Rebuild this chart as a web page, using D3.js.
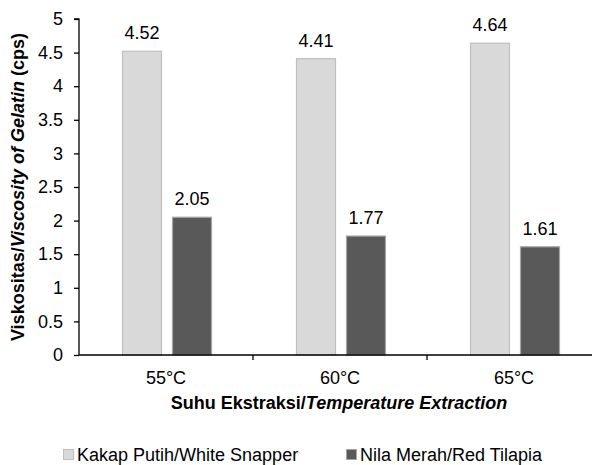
<!DOCTYPE html>
<html>
<head>
<meta charset="utf-8">
<script src="https://cdn.jsdelivr.net/npm/d3@7"></script>
<style>
  body { margin: 0; background: #fff; }
  text { font-family: "Liberation Sans", Arial, sans-serif; fill: #000; }
</style>
</head>
<body>
<div class="canvas"></div>
<script>
// data
const categories = ["55°C", "60°C", "65°C"]
const seriesNames = ["Kakap Putih/White Snapper", "Nila Merah/Red Tilapia"]
const kakapValues = [4.52, 4.41, 4.64]
const nilaValues = [2.05, 1.77, 1.61]
const yTicks = [0, 0.5, 1, 1.5, 2, 2.5, 3, 3.5, 4, 4.5, 5]

// settings
const svgWidth = 592
const svgHeight = 465
const margin = {top: 19, left: 79, right: -9, bottom: 110}
const colors = ["#d9d9d9", "#595959"]
const strokes = ["#bfbfbf", "#a6a6a6"]
const fs = 18

const svg = d3.select(".canvas")
    .append("svg")
    .attr("width", svgWidth)
    .attr("height", svgHeight)

const plotW = svgWidth - margin.left - margin.right
const plotH = svgHeight - margin.top - margin.bottom

const graph = svg.append("g")
    .attr("transform", `translate(${margin.left}, ${margin.top})`)

const x = d3.scaleBand()
    .domain(categories)
    .range([0, plotW])

const y = d3.scaleLinear()
    .domain([0, 5])
    .range([plotH, 0])

const barW = 40
const offsets = [43, 93]
const series = [kakapValues, nilaValues]

series.forEach((vals, s) => {
    graph.selectAll(".bar" + s)
        .data(vals)
        .enter()
        .append("rect")
            .attr("x", (d, i) => x(categories[i]) + offsets[s] + 0.5)
            .attr("y", d => y(d))
            .attr("width", barW - 1)
            .attr("height", d => plotH - y(d))
            .attr("fill", colors[s])
            .attr("stroke", strokes[s])
            .attr("stroke-width", 1.2)

    graph.selectAll(".lbl" + s)
        .data(vals)
        .enter()
        .append("text")
            .attr("x", (d, i) => x(categories[i]) + offsets[s] + barW / 2)
            .attr("y", d => y(d) - 12)
            .attr("text-anchor", "middle")
            .attr("font-size", fs)
            .text(d => d.toFixed(2))
})

// y axis
const yAxis = graph.append("g")
    .call(d3.axisLeft(y).tickValues(yTicks).tickSize(5).tickPadding(11).tickFormat(d3.format("")))
yAxis.selectAll("text").attr("font-size", fs).style("font-family", "Liberation Sans, Arial, sans-serif")
yAxis.selectAll("line, path").attr("stroke", "#000").attr("stroke-width", 1.3)
yAxis.select(".domain").attr("d", `M0,${plotH}V0H-5`)

// x axis
const xAxis = graph.append("g")
    .attr("transform", `translate(0, ${plotH})`)
    .call(d3.axisBottom(x).tickSize(0))
xAxis.selectAll("text")
    .attr("font-size", fs)
    .attr("y", 29).attr("dy", 0)
    .style("font-family", "Liberation Sans, Arial, sans-serif")
xAxis.select(".domain").attr("stroke", "#000").attr("stroke-width", 1.3).attr("d", `M0,0H${plotW}`)
graph.selectAll(".sep")
    .data(categories.slice(1))
    .enter()
    .append("line")
        .attr("x1", d => x(d)).attr("x2", d => x(d))
        .attr("y1", plotH).attr("y2", plotH + 5)
        .attr("stroke", "#000").attr("stroke-width", 1.3)

// axis titles
const xt = svg.append("text")
    .attr("x", 339)
    .attr("y", 409)
    .attr("text-anchor", "middle")
    .attr("font-size", fs)
    .attr("font-weight", "bold")
xt.append("tspan").text("Suhu Ekstraksi/")
xt.append("tspan").attr("font-style", "italic").text("Temperature Extraction")

const yt = svg.append("text")
    .attr("transform", `translate(24, ${margin.top + plotH / 2}) rotate(-90)`)
    .attr("text-anchor", "middle")
    .attr("font-size", fs)
    .attr("font-weight", "bold")
yt.append("tspan").text("Viskositas/")
yt.append("tspan").attr("font-style", "italic").text("Viscosity of Gelatin")
yt.append("tspan").text(" (cps)")

// legend
const legendX = [63, 346]
const legend = svg.selectAll(".legend")
    .data(seriesNames)
    .enter()
    .append("g")
        .attr("transform", (d, i) => `translate(${legendX[i]}, 455)`)
legend.append("rect")
    .attr("x", 0.5).attr("y", -5.5)
    .attr("width", 10).attr("height", 10)
    .attr("fill", (d, i) => colors[i])
    .attr("stroke", (d, i) => strokes[i])
legend.append("text")
    .attr("x", 14)
    .attr("y", 6)
    .attr("font-size", fs)
    .text(d => d)
</script>
</body>
</html>
